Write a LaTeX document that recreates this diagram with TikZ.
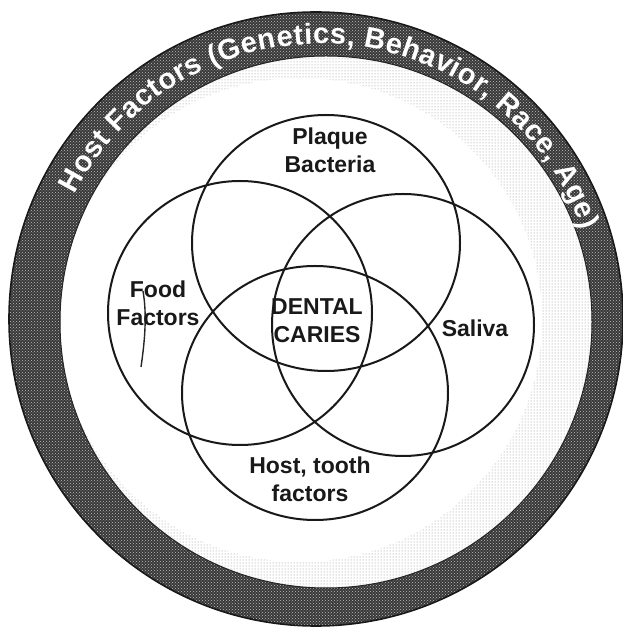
\documentclass[tikz,border=0pt]{standalone}
\usepackage{fontspec}
\setmainfont{Liberation Sans}
\usetikzlibrary{decorations.text,patterns}
\begin{document}
\begin{tikzpicture}[x=1pt,y=1pt,
  venn/.style={draw=black!90, line width=2pt},
  lbl/.style={font=\fontsize{23}{28}\selectfont\bfseries, text=black!90, align=center, inner sep=0pt},
  ringfill/.style={even odd rule}]
\useasboundingbox (0,0) rectangle (623,632);
\fill[white] (0,0) rectangle (623,632);
% faint speckle inside the ring, right side
\begin{scope}
  \clip (326,310) circle[radius=266];
  \path[even odd rule, pattern=dots, pattern color=black!45] (326,310) circle[radius=266] (300,312) circle[radius=242];
\end{scope}
% outer ring
\path[ringfill, fill=black!78] (316,313) circle[radius=307] (326,310) circle[radius=266];
\path[ringfill, pattern=crosshatch dots, pattern color=white!75!black] (316,313) circle[radius=307] (326,310) circle[radius=266];
\draw[line width=1.6pt, black!90] (316,313) circle[radius=307];
\draw[line width=1pt, black!85] (326,310) circle[radius=266];
% ring text
\path[decorate, decoration={text along path,
  text={|\fontsize{29}{29}\selectfont\bfseries\color{white}|Host Factors (Genetics, Behavior, Race, Age)},
  text align=fit to path}]
  (321,312) ++(153:276) arc[start angle=153, end angle=19, radius=276];
% Venn shapes
\draw[venn] (326,389) ellipse[x radius=134, y radius=128];
\draw[venn] (240,319) circle[radius=132];
\draw[venn] (403,307) circle[radius=131];
\draw[venn] (315,239) ellipse[x radius=133, y radius=127];
% stray stroke by Food
\draw[line width=1.4pt, black!85] (143,341) .. controls (147,318) and (145,292) .. (141,265);
% labels
\node[lbl] (plaque) at (330,482) {Plaque\\Bacteria};
\node[lbl] (food) at (158,329) {Food\\Factors};
\node[lbl] (caries) at (317,311) {DENTAL\\CARIES};
\node[lbl] (saliva) at (475,304) {Saliva};
\node[lbl] (host) at (310,153) {Host, tooth\\factors};
\end{tikzpicture}
\end{document}
